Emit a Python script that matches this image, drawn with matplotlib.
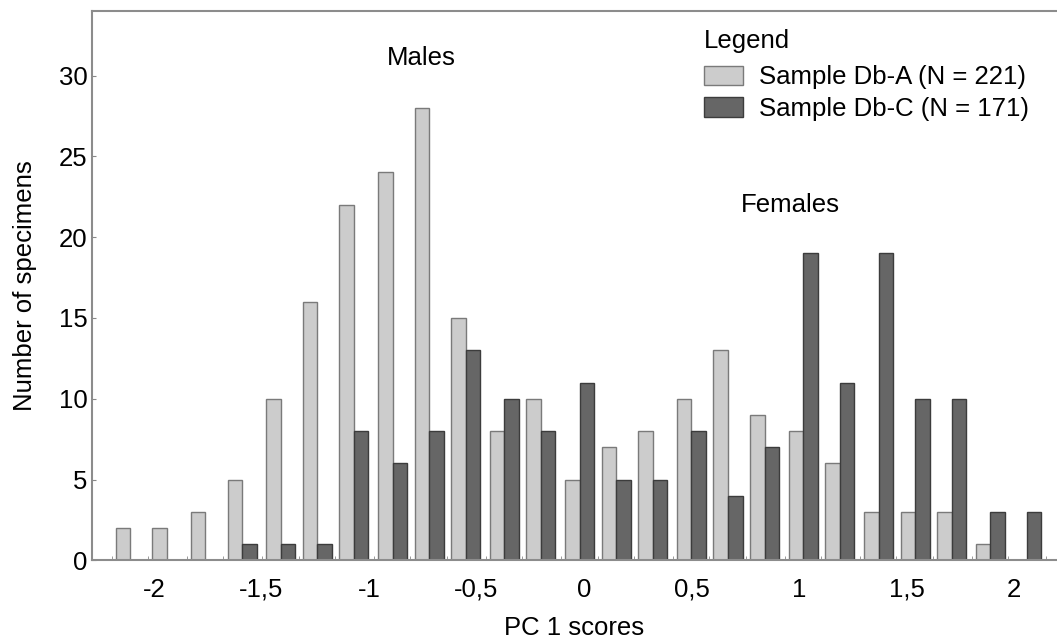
import numpy as np
import matplotlib.pyplot as plt
from matplotlib.ticker import FixedLocator

plt.rcParams['font.family'] = ['Liberation Sans', 'DejaVu Sans']

# Bin centres of PC 1 scores
bin_centers = [-2.11, -1.94, -1.76, -1.59, -1.41, -1.24, -1.07, -0.89, -0.72,
               -0.55, -0.37, -0.20, -0.02, 0.15, 0.32, 0.50, 0.67, 0.84,
               1.02, 1.19, 1.37, 1.54, 1.71, 1.89, 2.06]
sample_a = [2, 2, 3, 5, 10, 16, 22, 24, 28, 15, 8, 10, 5, 7, 8, 10, 13, 9,
            8, 6, 3, 3, 3, 1, 0]
sample_c = [0, 0, 0, 1, 1, 1, 8, 6, 8, 13, 10, 8, 11, 5, 5, 8, 4, 7,
            19, 11, 19, 10, 10, 3, 3]
x_ticks = [-2, -1.5, -1, -0.5, 0, 0.5, 1, 1.5, 2]
x_labels = ['-2', '-1,5', '-1', '-0,5', '0', '0,5', '1', '1,5', '2']
y_ticks = [0, 5, 10, 15, 20, 25, 30]

x = np.array(bin_centers)
step = 0.1737
bw = 0.0675
fs = 18.5

fig = plt.figure(figsize=(10.57, 6.39), dpi=100)
ax = fig.add_axes([0.087, 0.123, 0.913, 0.860])

ax.bar(x - bw / 2, sample_a, width=bw, color='#cccccc', edgecolor='#7a7a7a',
       linewidth=1.0, label='Sample Db-A (N = 221)')
ax.bar(x + bw / 2, sample_c, width=bw, color='#666666', edgecolor='#3c3c3c',
       linewidth=1.0, label='Sample Db-C (N = 171)')

ax.set_xlim(-2.288, 2.2)
ax.set_ylim(0, 34)
ax.set_xticks(x_ticks)
ax.set_xticklabels(x_labels)
ax.set_yticks(y_ticks)
ax.xaxis.set_minor_locator(FixedLocator(list(x - step / 2) + [x[-1] + step / 2]))

ax.tick_params(axis='x', which='major', length=0, pad=12.5, labelsize=fs)
ax.tick_params(axis='x', which='minor', direction='in', length=3, color='#888888')
ax.tick_params(axis='y', direction='in', length=3, color='#888888', pad=3, labelsize=fs)

ax.spines['right'].set_visible(False)
for side in ['left', 'top', 'bottom']:
    ax.spines[side].set_color('#8c8c8c')
    ax.spines[side].set_linewidth(1.5)

ax.set_xlabel('PC 1 scores', fontsize=fs, labelpad=10)
ax.set_ylabel('Number of specimens', fontsize=fs, labelpad=16)

ax.text(-0.755, 31.1, 'Males', fontsize=fs, ha='center', va='center')
ax.text(0.958, 22.0, 'Females', fontsize=fs, ha='center', va='center')

leg = ax.legend(title='Legend', loc='upper right', bbox_to_anchor=(0.976, 0.977),
                frameon=False, fontsize=fs, title_fontsize=fs,
                handlelength=1.52, handleheight=0.78, handletextpad=0.6,
                labelspacing=0.3, borderaxespad=0.0, borderpad=0.2)
leg._legend_box.align = 'left'
leg._legend_box.sep = 9

fig.savefig('out.png', dpi=100)
